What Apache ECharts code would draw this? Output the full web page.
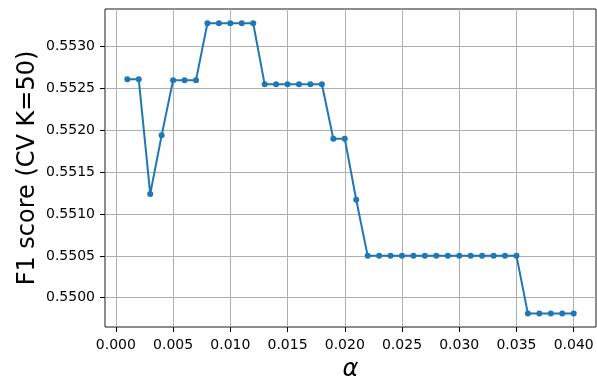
<!DOCTYPE html>
<html>
<head>
<meta charset="utf-8">
<script src="https://cdn.jsdelivr.net/npm/echarts@6/dist/echarts.min.js"></script>
<style>
  html, body { margin: 0; padding: 0; background: #fff; }
  #chart { width: 597px; height: 377px; }
</style>
</head>
<body>
<div id="chart"></div>
<script>
// Regularisation strength values
const alphas = [
  0.001, 0.002, 0.003, 0.004, 0.005, 0.006, 0.007, 0.008, 0.009, 0.010,
  0.011, 0.012, 0.013, 0.014, 0.015, 0.016, 0.017, 0.018, 0.019, 0.020,
  0.021, 0.022, 0.023, 0.024, 0.025, 0.026, 0.027, 0.028, 0.029, 0.030,
  0.031, 0.032, 0.033, 0.034, 0.035, 0.036, 0.037, 0.038, 0.039, 0.040
];

// Cross-validated F1 score for each alpha
const f1Scores = [
  0.55261, 0.55261, 0.55124, 0.55194, 0.55260, 0.55260, 0.55260, 0.55328, 0.55328, 0.55328,
  0.55328, 0.55328, 0.55255, 0.55255, 0.55255, 0.55255, 0.55255, 0.55255, 0.55190, 0.55190,
  0.55117, 0.55050, 0.55050, 0.55050, 0.55050, 0.55050, 0.55050, 0.55050, 0.55050, 0.55050,
  0.55050, 0.55050, 0.55050, 0.55050, 0.55050, 0.54981, 0.54981, 0.54981, 0.54981, 0.54981
];

// Tick settings
const xTickMin = 0.000, xTickMax = 0.040, xTickStep = 0.005;
const yTickMin = 0.5500, yTickMax = 0.5530, yTickStep = 0.0005;

// Axis extents (5% padding around the data range)
const xLo = -0.00095, xHi = 0.04195;
const yLo = 0.54965, yHi = 0.55345;

// Plot area in pixels
const W = 597, H = 377;
const plot = { left: 105, right: 1, top: 9, bottom: 50 };
const pxL = plot.left, pxR = W - plot.right, pxT = plot.top, pxB = H - plot.bottom;
const xPix = v => pxL + (v - xLo) / (xHi - xLo) * (pxR - pxL);
const yPix = v => pxB - (v - yLo) / (yHi - yLo) * (pxB - pxT);

const FONT = 'DejaVu Sans';
const tickLine = { show: true, inside: false, length: 5, lineStyle: { color: '#000', width: 1 } };
const gridLine = { show: true, lineStyle: { color: '#b0b0b0', width: 1 } };

const points = alphas.map((a, i) => [a, f1Scores[i]]);

const chart = echarts.init(document.getElementById('chart'), null, { renderer: 'canvas' });
chart.setOption({
  animation: false,
  backgroundColor: '#fff',
  grid: [
    // data area with frame
    { left: plot.left, right: plot.right, top: plot.top, bottom: plot.bottom,
      show: true, borderColor: '#1a1a1a', borderWidth: 1, backgroundColor: 'transparent',
      containLabel: false, outerBoundsMode: 'none' },
    // x ticks area
    { left: xPix(xTickMin), right: W - xPix(xTickMax), top: plot.top, bottom: plot.bottom,
      containLabel: false, outerBoundsMode: 'none' },
    // y ticks area
    { left: plot.left, right: plot.right, top: yPix(yTickMax), bottom: H - yPix(yTickMin),
      containLabel: false, outerBoundsMode: 'none' }
  ],
  xAxis: [
    { type: 'value', gridIndex: 0, min: xLo, max: xHi,
      axisLine: { show: false }, axisTick: { show: false }, axisLabel: { show: false }, splitLine: { show: false },
      name: 'α', nameLocation: 'middle', nameGap: 31,
      nameTextStyle: { fontFamily: FONT, fontStyle: 'italic', fontSize: 24, color: '#000' } },
    { type: 'value', gridIndex: 1, min: xTickMin, max: xTickMax, interval: xTickStep,
      axisLine: { show: false }, axisTick: tickLine, splitLine: gridLine,
      axisLabel: { show: true, margin: 11, color: '#000', fontFamily: FONT, fontSize: 14,
        showMinLabel: true, showMaxLabel: true, hideOverlap: false,
        formatter: v => v.toFixed(3) } },
    { type: 'value', gridIndex: 2, min: 0, max: 1,
      axisLine: { show: false }, axisTick: { show: false }, axisLabel: { show: false }, splitLine: { show: false } }
  ],
  yAxis: [
    { type: 'value', gridIndex: 0, min: yLo, max: yHi,
      axisLine: { show: false }, axisTick: { show: false }, axisLabel: { show: false }, splitLine: { show: false },
      name: 'F1 score (CV K=50)', nameLocation: 'middle', nameRotate: 90, nameGap: 65,
      nameTextStyle: { fontFamily: FONT, fontSize: 24, color: '#000' } },
    { type: 'value', gridIndex: 1, min: 0, max: 1,
      axisLine: { show: false }, axisTick: { show: false }, axisLabel: { show: false }, splitLine: { show: false } },
    { type: 'value', gridIndex: 2, min: yTickMin, max: yTickMax, interval: yTickStep,
      axisLine: { show: false }, axisTick: tickLine, splitLine: gridLine,
      axisLabel: { show: true, margin: 10, color: '#000', fontFamily: FONT, fontSize: 14,
        showMinLabel: true, showMaxLabel: true, hideOverlap: false,
        formatter: v => v.toFixed(4) } }
  ],
  series: [{
    type: 'line',
    xAxisIndex: 0, yAxisIndex: 0,
    data: points,
    symbol: 'circle', symbolSize: 6, showSymbol: true,
    lineStyle: { color: '#1f77b4', width: 2 },
    itemStyle: { color: '#1f77b4' },
    z: 5
  }]
});
</script>
</body>
</html>
